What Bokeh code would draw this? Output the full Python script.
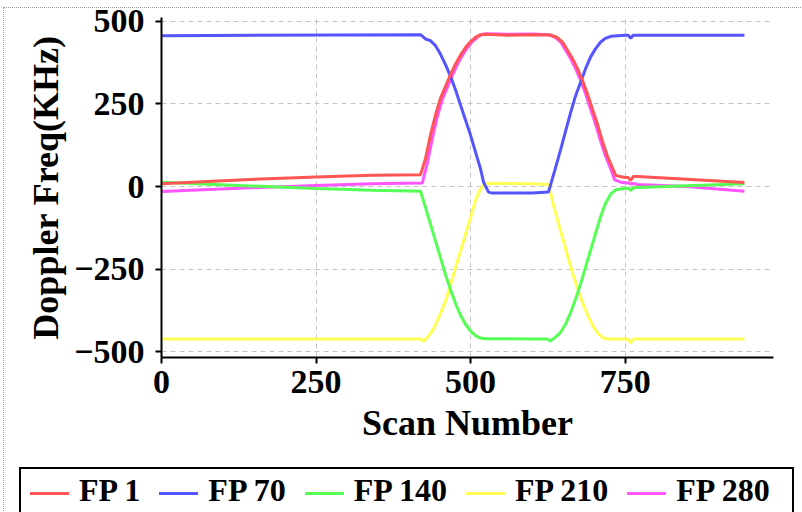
from bokeh.plotting import figure
from bokeh.layouts import column
from bokeh.models import Range1d, FixedTicker, Div
from bokeh.embed import file_html
from bokeh.resources import INLINE

# ---- data ----
fp1_scan = [0, 125, 250, 340, 419, 427, 435, 443, 451, 460, 468, 476, 484, 492, 500, 508, 516, 524, 560, 600, 629, 640, 649, 657, 665, 673, 681, 689, 697, 705, 713, 721, 730, 735, 748, 755, 759, 763, 770, 850, 943]
fp1_val = [8, 20, 29, 34, 36, 84, 155, 215, 266, 306, 341, 372, 399, 422, 439, 452, 460, 461, 458, 460, 459, 452, 437, 412, 387, 357, 321, 281, 235, 190, 139, 94, 54, 33, 28, 27, 18, 30, 30, 22, 12]

fp70_scan = [0, 419, 427, 435, 443, 451, 460, 468, 476, 484, 492, 500, 508, 516, 521, 529, 535, 600, 626, 637, 646, 654, 662, 670, 678, 686, 694, 702, 710, 718, 727, 750, 755, 759, 763, 943]
fp70_val = [457, 460, 447, 442, 427, 402, 367, 331, 291, 245, 200, 155, 104, 54, 13, -17, -20, -20, -17, 54, 114, 170, 225, 276, 316, 357, 392, 417, 437, 449, 455, 458, 458, 449, 458, 458]

fp140_scan = [0, 125, 250, 340, 419, 427, 435, 443, 451, 460, 468, 476, 484, 492, 500, 508, 516, 524, 600, 624, 629, 637, 646, 654, 662, 670, 678, 686, 694, 702, 710, 718, 727, 735, 751, 755, 759, 763, 770, 850, 943]
fp140_val = [13, 3, -6, -11, -14, -63, -113, -164, -214, -270, -315, -356, -391, -418, -438, -452, -459, -461, -462, -462, -468, -457, -441, -416, -381, -340, -295, -244, -194, -143, -93, -52, -22, -10, -5, -5, -12, -4, -3, 2, 8]

fp210_scan = [0, 419, 424, 435, 443, 451, 460, 468, 476, 484, 492, 500, 508, 516, 524, 532, 600, 626, 635, 643, 651, 659, 667, 675, 683, 691, 699, 707, 715, 723, 755, 759, 763, 943]
fp210_val = [-462, -462, -469, -447, -421, -386, -345, -295, -244, -194, -143, -93, -42, -7, 8, 10, 8, 6, -63, -118, -169, -224, -275, -320, -361, -396, -426, -447, -459, -462, -462, -474, -462, -462]

fp280_scan = [0, 125, 250, 340, 422, 430, 438, 446, 454, 463, 471, 479, 487, 495, 503, 511, 519, 527, 560, 600, 626, 637, 646, 654, 662, 670, 678, 686, 694, 702, 710, 718, 727, 733, 745, 755, 759, 763, 770, 850, 943]
fp280_val = [-15, -5, 3, 8, 11, 70, 145, 210, 262, 303, 339, 371, 398, 421, 439, 452, 461, 463, 461, 462, 460, 452, 437, 412, 387, 357, 321, 281, 235, 190, 139, 94, 52, 20, 12, 11, 8, 9, 6, 0, -14]

labels = ["FP 1", "FP 70", "FP 140", "FP 210", "FP 280"]
colors = ["#ff5555", "#5555ff", "#55ff55", "#ffff55", "#ff55ff"]
x_ticks = [0, 250, 500, 750]
y_ticks = [-500, -250, 0, 250, 500]

FONT = "Liberation Serif"

p = figure(frame_width=612, frame_height=340, output_backend="svg", toolbar_location=None,
           x_range=Range1d(0, 990), y_range=Range1d(-518, 512),
           min_border_left=157, min_border_right=21, min_border_top=9, min_border_bottom=105)
p.outline_line_color = None
p.background_fill_color = "white"
p.border_fill_color = "white"

for g in (p.xgrid[0], p.ygrid[0]):
    g.grid_line_color = "#c4c4c4"
    g.grid_line_dash = "5 4"
    g.grid_line_width = 1
p.xaxis.ticker = FixedTicker(ticks=x_ticks)
p.yaxis.ticker = FixedTicker(ticks=y_ticks)

for ax in (p.xaxis[0], p.yaxis[0]):
    ax.axis_line_width = 2
    ax.axis_line_color = "black"
    ax.major_tick_line_width = 2
    ax.major_tick_line_color = "black"
    ax.major_tick_out = 6
    ax.major_tick_in = 0
    ax.minor_tick_line_color = None
    ax.major_label_text_font = FONT
    ax.major_label_text_font_style = "bold"
    ax.major_label_text_font_size = "34px"
    ax.major_label_text_color = "black"
    ax.axis_label_text_font = FONT
    ax.axis_label_text_font_style = "bold"
    ax.axis_label_text_font_size = "36px"
    ax.axis_label_text_color = "black"

p.xaxis.axis_label = "Scan Number"
p.yaxis.axis_label = "Doppler Freq(KHz)"
p.xaxis.major_label_standoff = 7
p.yaxis.major_label_standoff = 11
p.yaxis.axis_label_standoff = 5
p.xaxis.axis_label_standoff = 7

series = [(fp1_scan, fp1_val), (fp70_scan, fp70_val), (fp140_scan, fp140_val),
          (fp210_scan, fp210_val), (fp280_scan, fp280_val)]
for idx in [4, 3, 2, 1, 0]:
    xs, ys = series[idx]
    p.line(xs, ys, line_color=colors[idx], line_width=3)

# legend strip below the chart, built from the labels and colours
parts = []
for i, (lab, col) in enumerate(zip(labels, colors)):
    gap = "" if i == 0 else '<span style="display:inline-block;width:19px"></span>'
    parts.append(gap + '<span style="display:inline-block;width:39px;height:3px;'
                 'background:%s;vertical-align:middle;margin-right:10px"></span>%s' % (col, lab))
legend_html = ('<div style="margin-left:10px;width:775px;height:60px;box-sizing:border-box;'
               'border:2px solid #000;padding:3px 9px 0 9px;font-family:\'Liberation Serif\';'
               'font-weight:bold;font-size:32px;color:#000;white-space:nowrap;line-height:normal;">'
               + "".join(parts) + '</div>')
legend_div = Div(text=legend_html, width=790, height=50)

layout = column(p, legend_div, spacing=0,
                styles={"outline": "1px dotted #999999", "margin": "8px 0px 0px 4px"})

open("out.html", "w").write(file_html(layout, INLINE))
